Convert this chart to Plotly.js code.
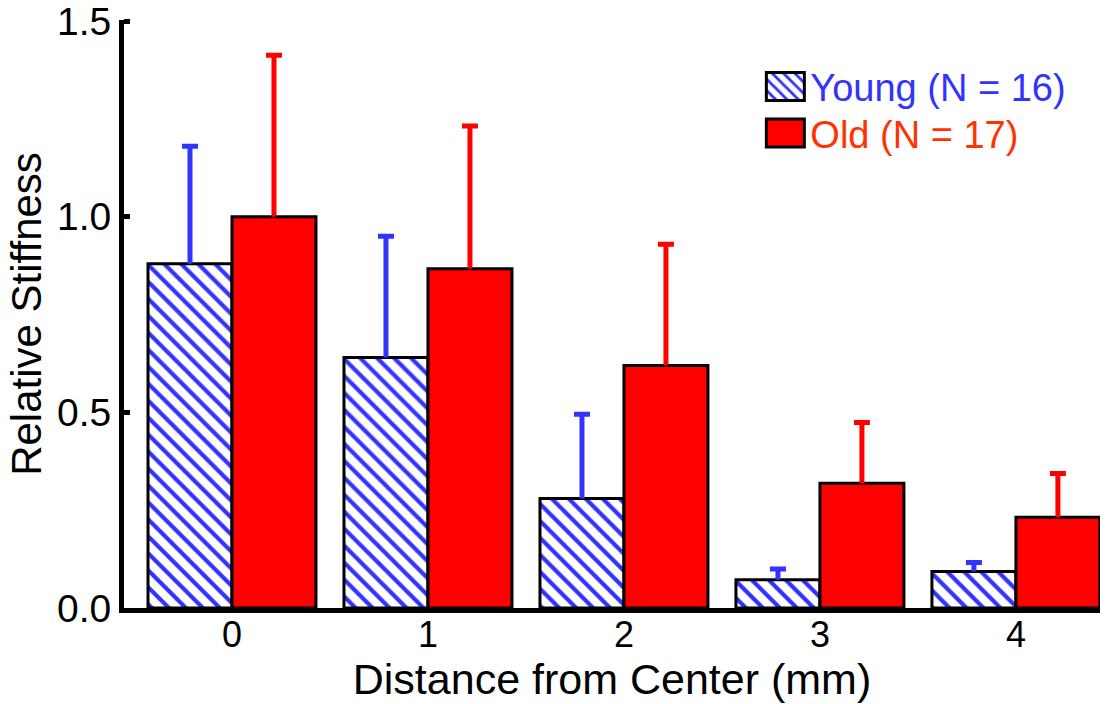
<!DOCTYPE html>
<html>
<head>
<meta charset="utf-8">
<script src="https://cdn.plot.ly/plotly-3.0.1.min.js"></script>
<style>html,body{margin:0;padding:0;background:#fff;}</style>
</head>
<body>
<div id="chart" style="width:1106px;height:704px;"></div>
<script>
// Data
var categories = ['0', '1', '2', '3', '4'];
var youngValues = [0.88, 0.64, 0.28, 0.072, 0.093];
var youngErrors = [0.30, 0.31, 0.215, 0.028, 0.023];
var oldValues = [1.00, 0.867, 0.62, 0.319, 0.232];
var oldErrors = [0.413, 0.365, 0.31, 0.155, 0.112];
var zeros = [0, 0, 0, 0, 0];
var seriesNames = ['Young (N = 16)', 'Old (N = 17)'];
var yTickVals = [0, 0.5, 1.0, 1.5];
var yTickText = ['0.0', '0.5', '1.0', '1.5'];

var FONT = 'Arial, "Liberation Sans", Helvetica, sans-serif';

var young = {
  type: 'bar',
  name: '<span style="color:#3333ff">' + seriesNames[0] + '</span>',
  x: categories,
  y: youngValues,
  marker: {
    color: '#ffffff',
    line: {color: '#000000', width: 3},
    pattern: {shape: '\\', fgcolor: '#3333ff', bgcolor: '#ffffff', size: 12, solidity: 0.35, fillmode: 'replace'}
  },
  error_y: {type: 'data', symmetric: false, array: youngErrors, arrayminus: zeros, color: '#3333ff', thickness: 5, width: 8}
};
var old = {
  type: 'bar',
  name: '<span style="color:#ff3300">' + seriesNames[1] + '</span>',
  x: categories,
  y: oldValues,
  marker: {color: '#ff0000', line: {color: '#000000', width: 3}},
  error_y: {type: 'data', symmetric: false, array: oldErrors, arrayminus: zeros, color: '#ff0000', thickness: 5, width: 8}
};

var layout = {
  width: 1106, height: 704,
  margin: {l: 124, r: 6, t: 20, b: 96},
  paper_bgcolor: '#ffffff', plot_bgcolor: '#ffffff',
  font: {family: FONT, color: '#000000', size: 36},
  barmode: 'group', bargap: 0.143, bargroupgap: 0,
  showlegend: true,
  legend: {
    x: 0.652, y: 0.94, xanchor: 'left', yanchor: 'top',
    bgcolor: 'rgba(0,0,0,0)', borderwidth: 0,
    font: {family: FONT, size: 38},
    itemwidth: 40, tracegroupgap: 0
  },
  xaxis: {
    type: 'category',
    range: [-0.551, 4.429],
    showline: true, linecolor: '#000000', linewidth: 5,
    ticks: '', showgrid: false, zeroline: false,
    tickfont: {family: FONT, size: 36},
    ticklabelstandoff: -9,
    title: {text: 'Distance from Center (mm)', font: {family: FONT, size: 43}, standoff: 0}
  },
  yaxis: {
    range: [0, 1.503],
    tickvals: yTickVals,
    ticktext: yTickText,
    ticklabeloverflow: 'allow',
    showline: true, linecolor: '#000000', linewidth: 5,
    ticks: 'inside', ticklen: 6, tickwidth: 5, tickcolor: '#000000',
    showgrid: false, zeroline: false,
    tickfont: {family: FONT, size: 39},
    title: {text: 'Relative Stiffness', font: {family: FONT, size: 42}, standoff: 4}
  }
};

Plotly.newPlot('chart', [young, old], layout, {displayModeBar: false, staticPlot: true}).then(function (gd) {
  // error bars in the reference are one-sided: drop the lower cap
  gd.querySelectorAll('.errorbar path').forEach(function (p) {
    var d = p.getAttribute('d');
    if (d) p.setAttribute('d', d.replace(/m-[\d.]+,0h[\d.]+$/, ''));
  });
  // larger legend swatches, as in the reference
  gd.querySelectorAll('.legend .legendpoints path').forEach(function (p) {
    p.setAttribute('d', 'M19,14H-19V-14H19Z');
  });
  // tighter legend row spacing, as in the reference
  var items = gd.querySelectorAll('.legend .traces');
  items.forEach(function (g, i) {
    var t = g.getAttribute('transform') || '';
    var m = t.match(/translate\(([-\d.]+),\s*([-\d.]+)\)/);
    if (m) g.setAttribute('transform', 'translate(' + m[1] + ',' + (parseFloat(m[2]) - 6 * i) + ')');
  });
});
</script>
</body>
</html>
